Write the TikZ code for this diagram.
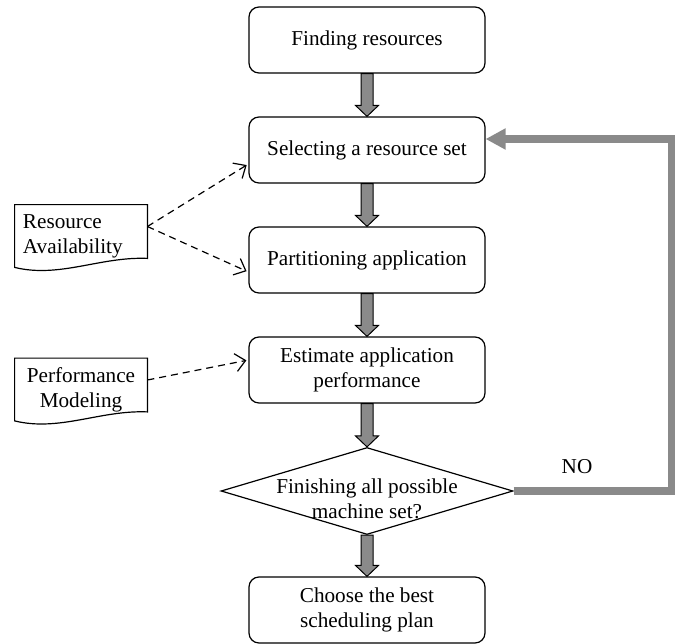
\documentclass[tikz,border=0pt]{standalone}
\usepackage{fontspec}
\setmainfont{Liberation Serif}
\usetikzlibrary{shapes.geometric,arrows.meta,calc}
\definecolor{flowgray}{RGB}{138,138,138}
\tikzset{
  stepbox/.style={draw, rounded corners=5pt, line width=0.6pt, minimum width=118pt, minimum height=33pt, align=center, inner sep=2pt},
  decbox/.style={draw, diamond, shape aspect=3.36, line width=0.6pt, minimum width=146pt, minimum height=43.5pt, inner sep=0pt},
  docnode/.style={minimum width=66pt, minimum height=31.5pt, inner xsep=4pt, inner ysep=0pt, text width=58pt},
  docline/.style={line width=0.6pt},
  dasharrow/.style={line width=0.6pt, dash pattern=on 3.5pt off 2.5pt, shorten >=1pt, -{Straight Barb[length=5pt,width=9pt]}},
  loopline/.style={flowgray, line width=4pt, -{Triangle[length=10pt,width=10pt]}}
}
\newcommand{\flowarrow}[2]{%
  \draw[line width=0.5pt, fill=flowgray]
    ($(#1.south)+(-3pt,0)$) -- ($(#2.north)+(-3pt,5.5pt)$) -- ($(#2.north)+(-5.75pt,5.5pt)$)
    -- (#2.north) -- ($(#2.north)+(5.75pt,5.5pt)$) -- ($(#2.north)+(3pt,5.5pt)$)
    -- ($(#1.south)+(3pt,0)$) -- cycle;}
\newcommand{\docshape}[1]{%
  \draw[docline] ([yshift=0.5pt]#1.south west) -- (#1.north west) -- (#1.north east) -- ([yshift=5pt]#1.south east)
    .. controls ([xshift=-23.5pt,yshift=6pt]#1.south east) and ([xshift=22.5pt,yshift=-5pt]#1.south west) .. ([yshift=0.5pt]#1.south west) -- cycle;}
\newcommand{\lowtext}[1]{\raisebox{-7.5pt}[0pt][0pt]{\begin{tabular}{@{}c@{}}#1\end{tabular}}}
\begin{document}
\begin{tikzpicture}[x=0.5pt,y=-0.5pt,font=\fontsize{10.6}{12.5}\selectfont]
  \useasboundingbox (0,0) rectangle (675,643);
  \node[stepbox] (find) at (367,40) {Finding resources};
  \node[stepbox] (sel) at (367,150) {Selecting a resource set};
  \node[stepbox] (part) at (367,260) {Partitioning application};
  \node[stepbox] (est) at (367,370) {Estimate application\\performance};
  \node[decbox] (dec) at (367,491) {\lowtext{Finishing all possible\\machine set?}};
  \node[stepbox] (best) at (367,610) {Choose the best\\scheduling plan};
  \node[docnode, align=left] (ra) at (81,236.5) {Resource\\Availability};
  \node[docnode, align=center] (pm) at (81,390) {Performance\\Modeling};
  \node (no) at (577,467) {NO};
  \docshape{ra}
  \docshape{pm}
  \flowarrow{find}{sel}
  \flowarrow{sel}{part}
  \flowarrow{part}{est}
  \flowarrow{est}{dec}
  \flowarrow{dec}{best}
  \draw[dasharrow] ([yshift=5pt]ra.east) -- ([yshift=-7pt]sel.west);
  \draw[dasharrow] ([yshift=5pt]ra.east) -- ([yshift=-6pt]part.west);
  \draw[dasharrow] ([yshift=5pt]pm.east) -- ([yshift=5pt]est.west);
  \draw[loopline] (dec.east) -- ++(79pt,0) |- ([yshift=5.5pt]sel.east);
\end{tikzpicture}
\end{document}
